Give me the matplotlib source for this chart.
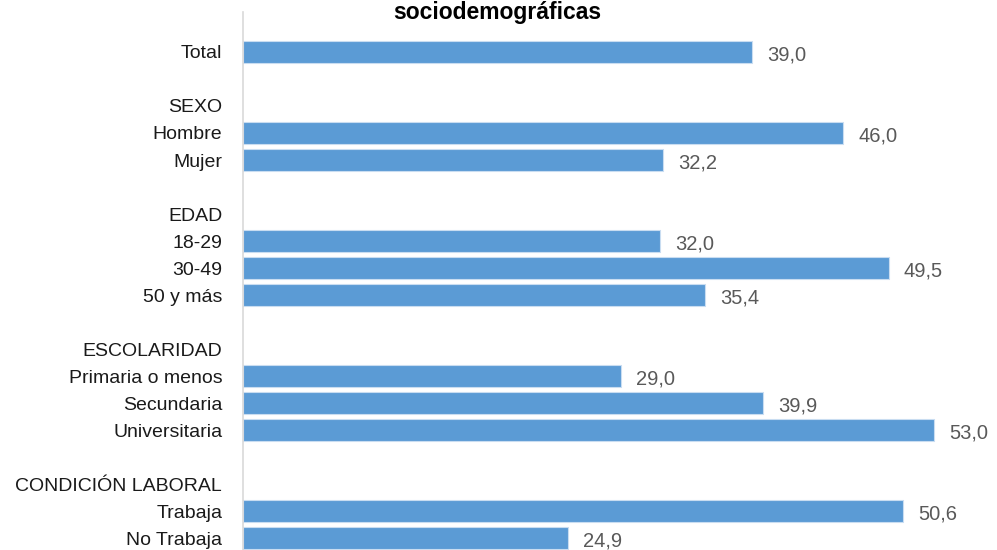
import matplotlib.pyplot as plt
import numpy as np

plt.rcParams['font.family'] = ['Liberation Sans Narrow', 'Liberation Sans', 'DejaVu Sans']

labels = ['Total', '', 'SEXO', 'Hombre', 'Mujer', '', 'EDAD', '18-29', '30-49', '50 y más', '',
          'ESCOLARIDAD', 'Primaria o menos', 'Secundaria', 'Universitaria', '',
          'CONDICIÓN LABORAL', 'Trabaja', 'No Trabaja']
values = [39.0, None, None, 46.0, 32.2, None, None, 32.0, 49.5, 35.4, None,
          None, 29.0, 39.9, 53.0, None, None, 50.6, 24.9]

fig = plt.figure(figsize=(9.97, 5.5), dpi=100)
ax = fig.add_axes([243 / 997, 0, 1 - 243 / 997, 538 / 550])

ypos = np.arange(len(labels))
for y, v in zip(ypos, values):
    if v is None:
        continue
    ax.barh(y, v, height=0.82, color='#5B9BD5', edgecolor='#C9DDF1', linewidth=0.8)
    ax.text(v + 1.15, y + 0.12, f'{v:.1f}'.replace('.', ','), va='center', ha='left',
            fontsize=14.5, color='#595959')

ax.set_yticks(ypos)
ax.set_yticklabels(labels, fontsize=14, color='#1a1a1a')
ax.tick_params(axis='y', length=0, pad=15)
ax.set_xticks([])
ax.set_xlim(0, 57.8)
ax.set_ylim(18.44, -1.48)
for s in ['top', 'right', 'bottom']:
    ax.spines[s].set_visible(False)
ax.spines['left'].set_color('#D9D9D9')
ax.spines['left'].set_linewidth(1.2)

fig.text(497 / 997, 1 - 12 / 550, 'sociodemográficas', ha='center', va='center',
         fontsize=16.5, fontweight='bold', family=['Liberation Sans', 'DejaVu Sans'])

fig.savefig('out.png', dpi=100)
